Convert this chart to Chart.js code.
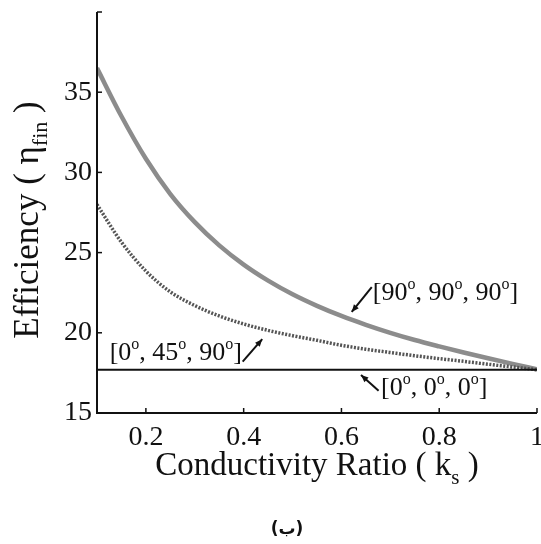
<!DOCTYPE html>
<html>
<head>
<meta charset="utf-8">
<script src="https://cdn.jsdelivr.net/npm/chart.js@4.4.1/dist/chart.umd.min.js"></script>
<style>
  html, body { margin: 0; padding: 0; background: #fff; overflow: hidden; }
  #chart { display: block; }
</style>
</head>
<body>
<canvas id="chart" width="541" height="544"></canvas>
<script>
// Valores (eficiencia frente a la relación de conductividad).
const kRatio = [0.10, 0.15, 0.20, 0.25, 0.30, 0.35, 0.40, 0.45, 0.50, 0.55,
                0.60, 0.65, 0.70, 0.75, 0.80, 0.85, 0.90, 0.95, 1.00];
const effAll90 = [36.5, 33.5, 30.85, 28.65, 26.9, 25.45, 24.25, 23.25, 22.4, 21.68,
                  21.05, 20.5, 20.0, 19.55, 19.15, 18.77, 18.41, 18.06, 17.72];
const eff0_45_90 = [28.0, 25.65, 23.85, 22.55, 21.7, 21.05, 20.55, 20.15, 19.82, 19.53,
                    19.22, 18.98, 18.77, 18.57, 18.39, 18.22, 18.04, 17.87, 17.7];
const kFlat = [0.1, 1.0];
const effAll0 = [17.7, 17.7];

const xTicks = [0.2, 0.4, 0.6, 0.8, 1];
const yTicks = [15, 20, 25, 30, 35, 40];

// Etiquetas con flecha (texto por partes, "o" en superíndice).
const notes = [
  { parts: [["[90", 0], ["o", 1], [", 90", 0], ["o", 1], [", 90", 0], ["o", 1], ["]", 0]],
    at: [0.664, 22.04], from: [0.662, 22.85], to: [0.621, 21.3] },
  { parts: [["[0", 0], ["o", 1], [", 45", 0], ["o", 1], [", 90", 0], ["o", 1], ["]", 0]],
    at: [0.126, 18.30], from: [0.398, 18.2], to: [0.438, 19.6] },
  { parts: [["[0", 0], ["o", 1], [", 0", 0], ["o", 1], [", 0", 0], ["o", 1], ["]", 0]],
    at: [0.681, 16.12], from: [0.676, 16.39], to: [0.640, 17.37] },
];

const SERIF = "'Liberation Serif', 'Times New Roman', serif";

function toPoints(xs, ys) {
  return xs.map((x, i) => ({ x: x, y: ys[i] }));
}

function drawParts(ctx, parts, x, y, size) {
  let cx = x;
  parts.forEach(([text, sup]) => {
    ctx.font = (sup ? Math.round(size * 0.62) : size) + "px " + SERIF;
    ctx.fillText(text, cx, sup ? y - size * 0.42 : y);
    cx += ctx.measureText(text).width;
  });
}

function drawArrow(ctx, x1, y1, x2, y2) {
  ctx.beginPath();
  ctx.moveTo(x1, y1);
  ctx.lineTo(x2, y2);
  ctx.stroke();
  const ang = Math.atan2(y2 - y1, x2 - x1);
  const len = 8;
  ctx.beginPath();
  ctx.moveTo(x2, y2);
  ctx.lineTo(x2 - len * Math.cos(ang - 0.4), y2 - len * Math.sin(ang - 0.4));
  ctx.lineTo(x2 - len * Math.cos(ang + 0.4), y2 - len * Math.sin(ang + 0.4));
  ctx.closePath();
  ctx.fill();
}

// Título con subíndice: [texto, subíndice, cierre], centrado en (0, 0).
function drawSubTitle(ctx, main, sub, close, big, small, drop) {
  ctx.font = small + "px " + SERIF;
  const wSub = ctx.measureText(sub).width;
  ctx.font = big + "px " + SERIF;
  const wMain = ctx.measureText(main).width;
  const wClose = ctx.measureText(close).width;
  const start = -(wMain + wSub + wClose) / 2;
  ctx.fillText(main, start, 0);
  ctx.fillText(close, start + wMain + wSub, 0);
  ctx.font = small + "px " + SERIF;
  ctx.fillText(sub, start + wMain, drop);
}

// Ejes estilo MATLAB, títulos con subíndices, notas y pie.
const extras = {
  id: "extras",
  afterDraw(chart) {
    const ctx = chart.ctx;
    const area = chart.chartArea;
    const xs = chart.scales.x;
    const ys = chart.scales.y;
    ctx.save();
    ctx.strokeStyle = "#111";
    ctx.fillStyle = "#111";

    ctx.lineWidth = 2;
    ctx.beginPath();
    ctx.moveTo(area.left, area.top);
    ctx.lineTo(area.left, area.bottom);
    ctx.lineTo(area.right, area.bottom);
    ctx.stroke();

    ctx.lineWidth = 1.5;
    xTicks.forEach(v => {
      const px = xs.getPixelForValue(v);
      ctx.beginPath();
      ctx.moveTo(px, area.bottom);
      ctx.lineTo(px, area.bottom - 5);
      ctx.stroke();
    });
    yTicks.forEach(v => {
      const py = ys.getPixelForValue(v);
      ctx.beginPath();
      ctx.moveTo(area.left, py);
      ctx.lineTo(area.left + 5, py);
      ctx.stroke();
    });

    ctx.textBaseline = "alphabetic";
    ctx.textAlign = "left";

    // Título eje X
    ctx.save();
    ctx.translate((area.left + area.right) / 2, 475);
    drawSubTitle(ctx, "Conductivity Ratio ( k", "s", " )", 33, 21, 9);
    ctx.restore();

    // Título eje Y
    ctx.save();
    ctx.translate(38, 220);
    ctx.rotate(-Math.PI / 2);
    drawSubTitle(ctx, "Efficiency ( \u03b7", "fin", " )", 35, 22, 9);
    ctx.restore();

    // Notas con flechas
    ctx.lineWidth = 2;
    notes.forEach(n => {
      drawParts(ctx, n.parts, xs.getPixelForValue(n.at[0]), ys.getPixelForValue(n.at[1]), 26);
      drawArrow(ctx,
        xs.getPixelForValue(n.from[0]), ys.getPixelForValue(n.from[1]),
        xs.getPixelForValue(n.to[0]), ys.getPixelForValue(n.to[1]));
    });

    // Pie
    ctx.font = "bold 17px 'DejaVu Sans'";
    ctx.textAlign = "center";
    ctx.fillText("(\u0628)", 287, 534);
    ctx.restore();
  },
};

const ctx = document.getElementById("chart").getContext("2d");
new Chart(ctx, {
  type: "line",
  data: {
    datasets: [
      {
        label: "[0°, 0°, 0°]",
        data: toPoints(kFlat, effAll0),
        borderColor: "#111",
        borderWidth: 2,
      },
      {
        label: "[0°, 45°, 90°]",
        data: toPoints(kRatio, eff0_45_90),
        borderColor: "#555",
        borderWidth: 3.5,
        borderDash: [2, 1.5],
        cubicInterpolationMode: "monotone",
      },
      {
        label: "[90°, 90°, 90°]",
        data: toPoints(kRatio, effAll90),
        borderColor: "#8c8c8c",
        borderWidth: 4.5,
        cubicInterpolationMode: "monotone",
      },
    ],
  },
  options: {
    responsive: false,
    animation: false,
    devicePixelRatio: 1,
    layout: { padding: { top: 12, right: 4, left: 0, bottom: 0 } },
    elements: { point: { radius: 0 } },
    plugins: {
      legend: { display: false },
      tooltip: { enabled: false },
    },
    scales: {
      x: {
        type: "linear",
        min: 0.1,
        max: 1,
        grid: { display: false, drawTicks: false },
        border: { display: false },
        afterBuildTicks: scale => {
          scale.ticks = xTicks.map(v => ({ value: v }));
        },
        afterFit: scale => {
          scale.height = 131;
          scale.paddingLeft = 0;
          scale.paddingRight = 0;
        },
        ticks: {
          autoSkip: false,
          maxRotation: 0,
          padding: 8,
          color: "#111",
          font: { family: SERIF, size: 28 },
          callback: v => String(v),
        },
      },
      y: {
        min: 15,
        max: 40,
        grid: { display: false, drawTicks: false },
        border: { display: false },
        afterBuildTicks: scale => {
          scale.ticks = yTicks.map(v => ({ value: v }));
        },
        afterFit: scale => {
          scale.width = 97;
          scale.paddingTop = 0;
          scale.paddingBottom = 0;
        },
        ticks: {
          padding: 5,
          color: "#111",
          font: { family: SERIF, size: 28 },
          callback: v => (v === 40 ? "" : String(v)),
        },
      },
    },
  },
  plugins: [extras],
});
</script>
</body>
</html>
